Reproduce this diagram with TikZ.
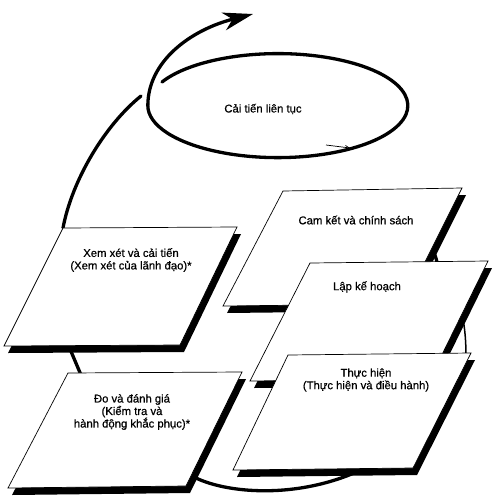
\documentclass[tikz,border=0pt]{standalone}
\usepackage{fontspec}
\setmainfont{Liberation Sans}
\newfontfamily\lblfont{Liberation Sans}[FakeBold=0.6]
\usetikzlibrary{arrows.meta}
\newcommand\ParaBox[4]{%
  \fill[shadowshape,shift={(4,7)}] #1 -- #2 -- #3 -- #4 -- cycle;
  \filldraw[boxshape] #1 -- #2 -- #3 -- #4 -- cycle;}
\begin{document}
\begin{tikzpicture}[x=1pt,y=-1pt,
  boxshape/.style={fill=white,draw=black,line width=0.7pt},
  shadowshape/.style={fill=black},
  cyc/.style={line width=3.3pt,line cap=round},
  lbl/.style={font=\lblfont\fontsize{11.3}{12.5}\selectfont,align=center,inner sep=0pt}]
\useasboundingbox[fill=white] (0,0) rectangle (497,504);

% spiral of continual improvement
\coordinate (spS) at (162,82);
\coordinate (spE) at (253,14);
\draw[cyc,-{Stealth[length=30pt,width=18pt,inset=9pt]}] (spS)
  arc[start angle=207,end angle=540,x radius=130,y radius=52]
  .. controls +(0,-44) and (190,30) .. (spE);
\coordinate (m1) at (326,145);
\coordinate (m2) at (350,148);
\draw[line width=0.7pt,-{Straight Barb[length=4pt,width=4pt]}] (m1) -- (m2);

% lower arc from review box
\coordinate (xemTL) at (63,228);
\coordinate (arcTop) at (141,96);
\draw[cyc] (xemTL) .. controls (72,180) and (105,125) .. (arcTop);

% connectors behind boxes
\coordinate (xemBot) at (70,349);
\coordinate (doTop) at (81,375);
\draw[cyc] (xemBot) -- (doTop);
\coordinate (doBR) at (192,476);
\coordinate (thBot) at (365,468);
\draw[cyc] (doBR) .. controls (225,494) and (300,500) .. (thBot);
\coordinate (camR) at (430,248);
\coordinate (lapT) at (438,266);
\draw[cyc] (camR) .. controls (435,254) .. (lapT);
\coordinate (lapR) at (460,305);
\coordinate (thT) at (466,358);
\draw[line width=1.5pt] (lapR) .. controls (465,325) and (466,340) .. (thT);

% boxes
\ParaBox{(63,228)}{(237,227)}{(180,345)}{(4,346)}
\ParaBox{(68,373)}{(242,372)}{(186,486)}{(8,488)}
\ParaBox{(283,191)}{(462,188)}{(404,304)}{(223,306)}
\ParaBox{(310,263)}{(488,261)}{(430,379)}{(250,381)}
\ParaBox{(288,355)}{(471,353)}{(413,468)}{(233,470)}

% labels
\node[lbl] (ct) at (263,109) {Cải tiến liên tục};
\node[lbl] (xem) at (131,260) {Xem xét và cải tiến\\(Xem xét của lãnh đạo)*};
\node[lbl] (do) at (132,412) {Đo và đánh giá\\(Kiểm tra và\\hành động khắc phục)*};
\node[lbl] (cam) at (356,220) {Cam kết và chính sách};
\node[lbl] (lap) at (367,287) {Lập kế hoạch};
\node[lbl] (th) at (366,380) {Thực hiện\\(Thực hiện và điều hành)};
\end{tikzpicture}
\end{document}
